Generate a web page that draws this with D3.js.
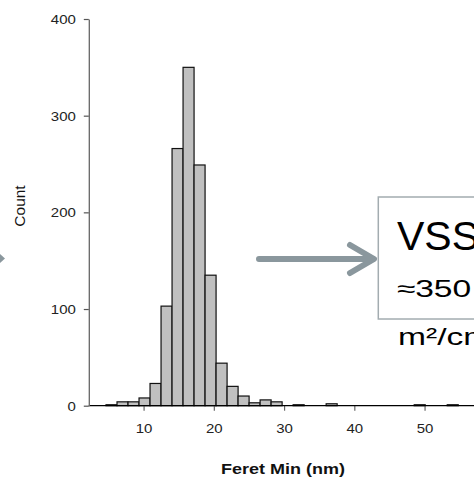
<!DOCTYPE html>
<html>
<head>
<meta charset="utf-8">
<script src="https://cdn.jsdelivr.net/npm/d3@7"></script>
<style>
  body { margin: 0; background: #fff; }
  svg { display: block; font-family: "Liberation Sans", Arial, sans-serif; }
</style>
</head>
<body>
<svg id="chart"></svg>
<script>
// histogram of Feret min diameter, bins of ~1.567 nm starting at 4.65 nm
const binStart = 4.65;
const binWidth = 1.567;
const counts = [1, 4, 4, 8, 23, 103, 266, 350, 249, 135, 44, 20, 10, 3, 6, 4,
                0, 1, 0, 0, 2, 0, 0, 0, 0, 0, 0, 0, 1, 0, 0, 1];
const xTicks = [10, 20, 30, 40, 50];
const yTicks = [0, 100, 200, 300, 400];

const width = 474;
const height = 478;
const sx = 1.2; // text in the reference is stretched horizontally

const svg = d3.select("#chart")
    .attr("width", width)
    .attr("height", height);

const x = d3.scaleLinear()
    .domain([2.2, 62])
    .range([88.8, 508.85]);

const y = d3.scaleLinear()
    .domain([0, 400])
    .range([405.7, 19]);

const bins = counts.map((c, i) => ({
    x0: binStart + i * binWidth,
    x1: binStart + (i + 1) * binWidth,
    count: c
})).filter(d => d.count > 0);

// bars
svg.append("g")
    .selectAll("rect")
    .data(bins)
    .enter().append("rect")
    .attr("x", d => x(d.x0))
    .attr("y", d => y(d.count))
    .attr("width", d => x(d.x1) - x(d.x0))
    .attr("height", d => y(0) - y(d.count))
    .style("fill", "#c0c0c0")
    .style("stroke", "#111")
    .style("stroke-width", 1.2);

// x axis
const xAxis = svg.append("g")
    .attr("transform", `translate(0,${y(0)})`)
    .call(d3.axisBottom(x).tickValues(xTicks).tickSize(5).tickSizeOuter(0));
xAxis.select(".domain").remove();
xAxis.append("line")
    .attr("x1", x(2.2)).attr("x2", width)
    .attr("stroke", "#000").attr("stroke-width", 1.3);
xAxis.selectAll(".tick line").attr("stroke", "#666").attr("stroke-width", 1.2);
xAxis.selectAll(".tick text")
    .attr("y", 27).attr("dy", 0)
    .attr("transform", `scale(${sx},1)`)
    .style("font-size", "12.5px")
    .style("fill", "#222");

// y axis
const yAxis = svg.append("g")
    .attr("transform", `translate(${x(2.2)},0)`)
    .call(d3.axisLeft(y).tickValues(yTicks).tickSize(5).tickSizeOuter(0));
yAxis.select(".domain").attr("stroke", "#666").attr("stroke-width", 1.3);
yAxis.selectAll(".tick line").attr("stroke", "#555").attr("stroke-width", 1.2);
yAxis.selectAll(".tick text")
    .attr("x", -13 / sx).attr("dy", "0.36em")
    .attr("transform", `scale(${sx},1)`)
    .style("font-size", "12.5px")
    .style("fill", "#222");

// axis titles
svg.append("text")
    .attr("transform", `translate(283,474) scale(${sx},1)`)
    .style("text-anchor", "middle")
    .style("font-size", "15px")
    .style("font-weight", "bold")
    .style("fill", "#111")
    .text("Feret Min (nm)");

svg.append("text")
    .attr("transform", "translate(25,206) rotate(-90)")
    .style("text-anchor", "middle")
    .style("font-size", "15.5px")
    .style("fill", "#111")
    .text("Count");

// annotation arrow and box
const arrowColor = "#8a979d";
svg.append("path")
    .attr("d", "M259,259 H373 M350,245 L374,259 L350,273")
    .style("fill", "none")
    .style("stroke", arrowColor)
    .style("stroke-width", 6)
    .style("stroke-linecap", "round")
    .style("stroke-linejoin", "round");

svg.append("path")
    .attr("d", "M0,254 L5,258.5 L0,263 Z")
    .style("fill", arrowColor);

svg.append("rect")
    .attr("x", 378.3)
    .attr("y", 197)
    .attr("width", 120)
    .attr("height", 122)
    .style("fill", "#fff")
    .style("stroke", "#a3acb0")
    .style("stroke-width", 1.5);

svg.append("text")
    .attr("x", 397).attr("y", 250)
    .style("font-size", "41px")
    .style("fill", "#000")
    .text("VSS");

svg.append("text")
    .attr("transform", "translate(396.7,297) scale(1.4,1)")
    .style("font-size", "24px")
    .style("fill", "#000")
    .text("≈350");

svg.append("text")
    .attr("transform", "translate(398,345) scale(1.4,1)")
    .style("font-size", "24px")
    .style("fill", "#000")
    .text("m²/cm");
</script>
</body>
</html>
